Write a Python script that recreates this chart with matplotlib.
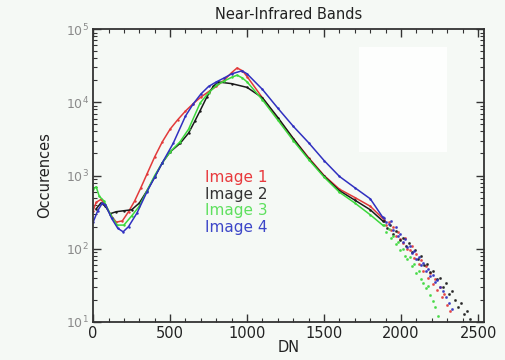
import matplotlib.pyplot as plt
from matplotlib.patches import Rectangle
from matplotlib.ticker import MultipleLocator, LogLocator, NullFormatter

# Histograms (DN vs occurrences)
dn_1 = [0, 20, 50, 80, 110, 150, 190, 230, 270, 310, 350, 400, 450, 500, 550, 600, 650, 700,
        750, 800, 850, 900, 935, 970, 1000, 1100, 1200, 1300, 1400, 1500, 1600, 1700, 1800, 1880]
occ_1 = [330, 430, 470, 400, 300, 230, 240, 320, 450, 680, 1050, 1800, 2900, 4300, 5800, 7600,
         9600, 11800, 14000, 16500, 20000, 25500, 29500, 27000, 22500, 11500, 6000, 3200, 1750,
         1000, 650, 500, 380, 260]

dn_2 = [20, 50, 80, 110, 150, 200, 250, 300, 350, 400, 450, 500, 565, 620, 660, 695, 740, 780,
        812, 900, 1000, 1100, 1200, 1300, 1400, 1500, 1600, 1700, 1800, 1880]
occ_2 = [350, 420, 380, 300, 320, 330, 340, 420, 620, 950, 1500, 2100, 2750, 3800, 5500, 7700,
         12000, 16500, 19000, 18000, 16000, 11500, 6200, 3200, 1700, 980, 620, 460, 340, 240]

dn_3 = [0, 20, 40, 70, 110, 156, 200, 250, 300, 350, 400, 450, 500, 565, 620, 695, 750, 800,
        850, 900, 935, 970, 1000, 1100, 1200, 1300, 1400, 1500, 1600, 1700, 1800, 1880]
occ_3 = [650, 700, 520, 450, 300, 210, 210, 280, 380, 620, 1000, 1500, 2100, 2900, 4300, 9800,
         13500, 17000, 19500, 22000, 23500, 21500, 19000, 10800, 5700, 3000, 1650, 950, 590, 420,
         290, 210]

dn_4 = [0, 30, 60, 80, 120, 160, 195, 230, 286, 350, 400, 450, 520, 600, 650, 700, 750, 800,
        850, 900, 967, 1000, 1100, 1200, 1300, 1400, 1500, 1600, 1700, 1800, 1880]
occ_4 = [230, 330, 420, 400, 260, 190, 170, 200, 310, 600, 950, 1500, 2750, 6500, 9500, 13000,
         16500, 19000, 21500, 24500, 27000, 24500, 15000, 8300, 4700, 2800, 1600, 970, 680, 480, 270]

# noisy tails (scattered points)
tail_dn_1 = [1890, 1905, 1920, 1935, 1950, 1965, 1980, 1995, 2010, 2025, 2040, 2055, 2070, 2085, 2100,
             2115, 2130, 2145, 2160, 2175, 2190, 2205, 2220, 2235, 2250, 2265, 2280, 2300, 2320]
tail_1 = [250, 210, 235, 180, 200, 150, 170, 135, 120, 140, 100, 95, 110, 75, 85, 62, 70, 50, 58,
          40, 46, 33, 38, 27, 30, 22, 24, 17, 14]
tail_dn_2 = [1890, 1910, 1930, 1950, 1970, 1990, 2010, 2030, 2050, 2070, 2090, 2110, 2130, 2150, 2170,
             2190, 2210, 2230, 2250, 2270, 2290, 2310, 2330, 2350, 2370, 2390, 2410, 2430, 2450]
tail_2 = [240, 190, 210, 160, 175, 130, 140, 110, 120, 90, 95, 72, 80, 60, 62, 48, 50, 38, 40, 30,
          34, 24, 26, 20, 16, 18, 13, 14, 11]
tail_dn_3 = [1890, 1905, 1920, 1935, 1950, 1965, 1980, 1995, 2010, 2025, 2040, 2055, 2070, 2085, 2100,
             2115, 2130, 2145, 2160, 2175, 2190, 2205, 2220, 2240]
tail_3 = [210, 170, 185, 140, 150, 115, 125, 95, 100, 80, 72, 78, 58, 62, 46, 50, 38, 34, 29, 31,
          23, 19, 16, 12]
tail_dn_4 = [1890, 1905, 1920, 1935, 1950, 1965, 1980, 1995, 2010, 2025, 2040, 2055, 2070, 2085, 2100,
             2115, 2130, 2145, 2160, 2175, 2190, 2205, 2220, 2235, 2250, 2270, 2290, 2310, 2330]
tail_4 = [260, 230, 215, 240, 180, 195, 150, 160, 125, 135, 105, 110, 88, 92, 72, 78, 60, 64, 50,
          52, 42, 44, 35, 37, 30, 26, 22, 18, 15]

labels = ['Image 1', 'Image 2', 'Image 3', 'Image 4']
colors = ['#e23a3a', '#1a1a1a', '#3cd83c', '#3030c0']
text_colors = ['#e8393c', '#333333', '#5ee05e', '#3c46c8']

series = [(dn_1, occ_1, tail_dn_1, tail_1), (dn_2, occ_2, tail_dn_2, tail_2),
          (dn_3, occ_3, tail_dn_3, tail_3), (dn_4, occ_4, tail_dn_4, tail_4)]

bg = '#f5f9f5'
fig = plt.figure(figsize=(5.06, 3.6), dpi=100, facecolor=bg)
ax = fig.add_axes([0.184, 0.106, 0.773, 0.813], facecolor=bg)

# lighter patch seen in the background of the original
ax.add_patch(Rectangle((0.68, 0.58), 0.225, 0.36, transform=ax.transAxes,
                       facecolor='#fdfefd', edgecolor='none', zorder=0))

for (x, y, tx, ty), c in zip(series, colors):
    ax.plot(x, y, color=c, lw=1.1, marker='.', ms=1.5)
    ax.plot(tx, ty, color=c, lw=0, marker='.', ms=2.2, alpha=0.75)

ax.set_yscale('log')
ax.set_xlim(0, 2540)
ax.set_ylim(10, 1e5)
ax.xaxis.set_major_locator(MultipleLocator(500))
ax.xaxis.set_minor_locator(MultipleLocator(100))
ax.yaxis.set_major_locator(LogLocator(base=10))
ax.yaxis.set_minor_locator(LogLocator(base=10, subs=range(2, 10)))
ax.yaxis.set_minor_formatter(NullFormatter())
ax.tick_params(which='both', direction='in', top=True, right=True, color='#333333')
ax.tick_params(which='major', length=6, width=1)
ax.tick_params(which='minor', length=3, width=0.8)
ax.tick_params(axis='x', labelsize=10.5, labelcolor='#222222', pad=3)
ax.tick_params(axis='y', labelsize=9, labelcolor='#8a8a8a', pad=3)
for s in ax.spines.values():
    s.set_color('#333333')
    s.set_linewidth(1.3)

ax.set_title('Near-Infrared Bands', fontsize=10.5, color='#222222', pad=7)
ax.set_xlabel('DN', fontsize=10.5, color='#222222', labelpad=-1)
ax.set_ylabel('Occurences', fontsize=10.5, color='#222222', labelpad=10)

for i, (lab, c) in enumerate(zip(labels, text_colors)):
    ax.text(0.286, 0.478 - i * 0.057, lab, color=c, fontsize=11, transform=ax.transAxes)

plt.savefig('out.png', dpi=100, facecolor=bg)
